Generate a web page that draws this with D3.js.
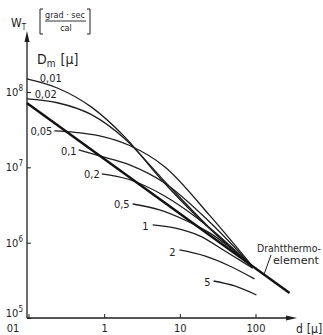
<!DOCTYPE html>
<html>
<head>
<meta charset="utf-8">
<script src="https://cdn.jsdelivr.net/npm/d3@7"></script>
<style>
  body { margin: 0; background: #fff; }
  svg text { font-family: "DejaVu Sans Condensed", "Liberation Sans Narrow", "DejaVu Sans", sans-serif; fill: #1e1e1e; }
</style>
</head>
<body>
<div class="chart"></div>
<script>
// tick values and labels
const xTicks = [0.1, 1, 10, 100];
const xTickLabels = ["01", "1", "10", "100"];
const yTicks = [1e5, 1e6, 1e7, 1e8];
const yTickExp = ["5", "6", "7", "8"];

// D_m values of the curves (labels as printed)
const curveNames = ["0,01", "0,02", "0,05", "0,1", "0,2", "0,5", "1", "2", "5"];

// d [µ] and W_T [grad·sec/cal]
const d001 = [0.095, 0.24, 0.68, 1.87, 5.75, 22.6, 92];
const w001 = [1.49e8, 1.13e8, 6.3e7, 2.54e7, 6.8e6, 1.67e6, 4.8e5];
const d002 = [0.095, 0.24, 0.68, 1.87, 5.75, 22.6, 92];
const w002 = [8.1e7, 7.2e7, 5.0e7, 2.4e7, 7.2e6, 1.72e6, 4.8e5];
const d005 = [0.22, 0.41, 0.87, 2.17, 6.3, 24.8, 92];
const w005 = [3.04e7, 2.92e7, 2.62e7, 1.95e7, 1.02e7, 2.3e6, 4.8e5];
const d01 = [0.46, 0.87, 2.17, 6.3, 24.8, 92];
const w01 = [1.7e7, 1.42e7, 1.08e7, 6.2e6, 1.88e6, 4.8e5];
const d02 = [0.93, 2.04, 6.3, 24.8, 92];
const w02 = [8.2e6, 7.0e6, 4.17e6, 1.57e6, 4.8e5];
const d05 = [2.38, 5.4, 11.6, 24.8, 92];
const w05 = [3.26e6, 2.72e6, 2.0e6, 1.35e6, 4.8e5];
const d1 = [4.37, 8.5, 18.3, 39, 92];
const w1 = [1.72e6, 1.57e6, 1.23e6, 7.8e5, 4.6e5];
const d2 = [9.9, 21.3, 45.5, 97];
const w2 = [8.0e5, 6.66e5, 4.9e5, 3.3e5];
const d5 = [27.9, 53, 103];
const w5 = [3.1e5, 2.66e5, 2.02e5];

// Drahtthermoelement (thick straight line)
const dWire = [0.095, 282];
const wWire = [7.16e7, 2.15e5];

let chart = {};

function init() {
    chart.width = 323;
    chart.height = 335;

    chart.x = d3.scaleLog().domain([0.1, 100]).range([28.5, 255.5]);
    chart.y = d3.scaleLog().domain([1e5, 1e8]).range([318, 92]);

    chart.svg = d3.select(".chart").append("svg")
        .attr("width", chart.width)
        .attr("height", chart.height);

    drawAxes();
    drawCurves();
    drawLabels();
}

function drawAxes() {
    const svg = chart.svg;
    const x0 = 27, y0 = 318;

    // axis lines with arrows
    svg.append("line").attr("x1", x0).attr("y1", y0).attr("x2", x0).attr("y2", 40)
        .attr("stroke", "#1e1e1e").attr("stroke-width", 1.3);
    svg.append("path").attr("d", `M${x0 - 2.5},42 L${x0},31 L${x0 + 2.5},42 Z`).attr("fill", "#1e1e1e");

    svg.append("line").attr("x1", x0).attr("y1", y0).attr("x2", 288).attr("y2", y0)
        .attr("stroke", "#1e1e1e").attr("stroke-width", 1.3);
    svg.append("path").attr("d", `M286,${y0 - 2.5} L297,${y0} L286,${y0 + 2.5} Z`).attr("fill", "#1e1e1e");

    // x ticks
    const xAxis = svg.append("g").attr("transform", `translate(0,${y0})`)
        .call(d3.axisBottom(chart.x).tickValues(xTicks).tickSize(-4).tickPadding(6)
            .tickFormat((d, i) => xTickLabels[i]));
    xAxis.select(".domain").remove();
    xAxis.selectAll("line").attr("stroke", "#1e1e1e");
    xAxis.selectAll("text").attr("font-size", 11).attr("font-family", null)
        .attr("dx", (d, i) => i === 0 ? -16 : 0);

    // y ticks
    const yAxis = svg.append("g").attr("transform", `translate(${x0},0)`)
        .call(d3.axisRight(chart.y).tickValues(yTicks).tickSize(4).tickFormat(""));
    yAxis.select(".domain").remove();
    yAxis.selectAll("line").attr("stroke", "#1e1e1e");

    const yl = svg.selectAll("text.ylab").data(yTicks).enter().append("text")
        .attr("class", "ylab")
        .attr("text-anchor", "end")
        .attr("x", 23)
        .attr("y", (d, i) => chart.y(d) + (i === 0 ? -1 : 4))
        .attr("font-size", 11);
    yl.append("tspan").text("10");
    yl.append("tspan").attr("dy", -5).attr("font-size", 8).text((d, i) => yTickExp[i]);

    // axis titles
    const xt = svg.append("text").attr("x", 296).attr("y", 333).attr("font-size", 12);
    xt.append("tspan").text("d");
    xt.append("tspan").attr("dx", 4).text("[µ]");

    const wt = svg.append("text").attr("x", 11).attr("y", 27).attr("font-size", 12);
    wt.append("tspan").text("W");
    wt.append("tspan").attr("dy", 3).attr("font-size", 8).text("T");

    // [grad·sec / cal]
    svg.append("path").attr("d", "M43,9 L40,9 L40,34 L43,34 M87,9 L90,9 L90,34 L87,34")
        .attr("fill", "none").attr("stroke", "#1e1e1e").attr("stroke-width", 1);
    svg.append("text").attr("x", 65).attr("y", 18).attr("text-anchor", "middle")
        .attr("font-size", 9).text("grad · sec");
    svg.append("line").attr("x1", 45).attr("x2", 86).attr("y1", 21).attr("y2", 21)
        .attr("stroke", "#1e1e1e").attr("stroke-width", 0.9);
    svg.append("text").attr("x", 66).attr("y", 31).attr("text-anchor", "middle")
        .attr("font-size", 9).text("cal");

    const dm = svg.append("text").attr("x", 37).attr("y", 64).attr("font-size", 14);
    dm.append("tspan").text("D");
    dm.append("tspan").attr("dy", 3).attr("font-size", 10).text("m");
    dm.append("tspan").attr("dy", -3).attr("dx", 5).text("[µ]");
}

function drawCurves() {
    const ds = [d001, d002, d005, d01, d02, d05, d1, d2, d5];
    const ws = [w001, w002, w005, w01, w02, w05, w1, w2, w5];
    chart.series = curveNames.map((name, i) => ({
        name: name,
        values: ds[i].map((d, j) => ({ d: d, w: ws[i][j] }))
    }));

    chart.line = d3.line()
        .x(p => chart.x(p.d))
        .y(p => chart.y(p.w))
        .curve(d3.curveMonotoneX);

    chart.svg.selectAll("path.curve")
        .data(chart.series)
        .enter().append("path")
        .attr("class", "curve")
        .attr("d", s => chart.line(s.values))
        .attr("fill", "none")
        .attr("stroke", "#1e1e1e")
        .attr("stroke-width", 1.3);

    chart.wire = dWire.map((d, j) => ({ d: d, w: wWire[j] }));
    chart.svg.append("path")
        .attr("class", "wire")
        .attr("d", chart.line(chart.wire))
        .attr("fill", "none")
        .attr("stroke", "#111")
        .attr("stroke-width", 2.4);
}

function drawLabels() {
    // label placement relative to each curve's first point
    const offsets = [[13, 3, "start"], [8, -1, "start"], [-2, 4, "end"], [-2, 5, "end"], [-2, 4, "end"],
        [-3, 4, "end"], [-4, 5, "end"], [-4, 6, "end"], [-3, 5, "end"]];

    chart.svg.selectAll("text.clab")
        .data(chart.series)
        .enter().append("text")
        .attr("class", "clab")
        .attr("x", (s, i) => chart.x(s.values[0].d) + offsets[i][0])
        .attr("y", (s, i) => chart.y(s.values[0].w) + offsets[i][1])
        .attr("text-anchor", (s, i) => offsets[i][2])
        .attr("font-size", 11)
        .text(s => s.name);

    // Drahtthermoelement
    chart.svg.append("text").attr("x", 257).attr("y", 252).attr("font-size", 10)
        .attr("textLength", 64).attr("lengthAdjust", "spacingAndGlyphs").text("Drahtthermo-");
    chart.svg.append("text").attr("x", 273).attr("y", 264).attr("font-size", 10)
        .attr("textLength", 46).attr("lengthAdjust", "spacingAndGlyphs").text("element");

    // pointer to the wire line
    const px = 264;
    const dAt = chart.x.invert(px);
    const t = (Math.log10(dAt) - Math.log10(dWire[0])) / (Math.log10(dWire[1]) - Math.log10(dWire[0]));
    const wAt = Math.pow(10, Math.log10(wWire[0]) + t * (Math.log10(wWire[1]) - Math.log10(wWire[0])));
    chart.svg.append("line")
        .attr("x1", 271).attr("y1", 255)
        .attr("x2", px).attr("y2", chart.y(wAt))
        .attr("stroke", "#1e1e1e").attr("stroke-width", 1);
}

init();
</script>
</body>
</html>
